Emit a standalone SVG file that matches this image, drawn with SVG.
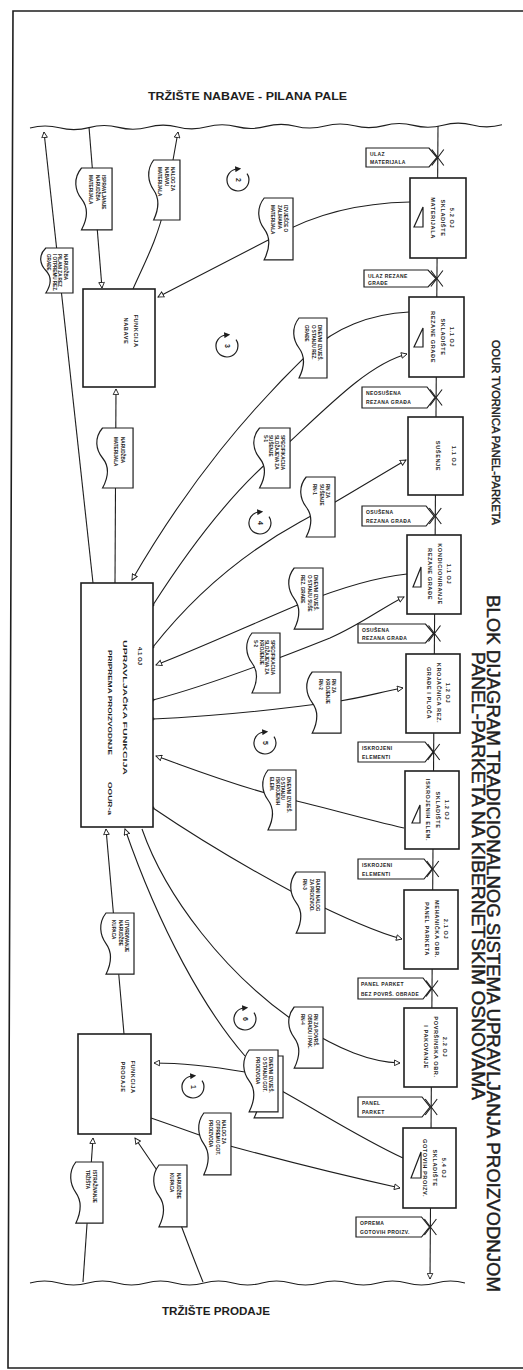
<svg xmlns="http://www.w3.org/2000/svg" xmlns:xlink="http://www.w3.org/1999/xlink" width="523" height="1370" viewBox="0 0 523 1370">
<style>
.ln{fill:none;stroke:#1e1e1e;stroke-width:1.1}
.bx{fill:#fff;stroke:#1e1e1e;stroke-width:1.6}
.dc{fill:#fff;stroke:#1e1e1e;stroke-width:1.2}
.tg{fill:#fff;stroke:#1e1e1e;stroke-width:1.2}
.sym{fill:none;stroke:#1e1e1e;stroke-width:1.2}
.t{font-family:"Liberation Sans",Arial,sans-serif;font-weight:bold;fill:#1e1e1e}
.dt{font-size:4.6px}
.nt{font-size:5.6px;letter-spacing:0.6px;text-anchor:middle}
.tt{font-size:5px;letter-spacing:0.4px}
.ttl{font-family:"Liberation Sans",Arial,sans-serif;fill:#1e1e1e;stroke:#1e1e1e;stroke-width:0.45}
</style>
<defs>
<path id="doc" d="M 6,0 L 34,0 L 34,60 L 6,60 C 12,48 12,38 6,30 C 0,22 -2,10 6,0 Z" vector-effect="non-scaling-stroke"/>
<marker id="arr" viewBox="0 0 10 10" refX="9" refY="5" markerWidth="7" markerHeight="7" markerUnits="userSpaceOnUse" orient="auto">
<path d="M1,1 L9,5 L1,9 Z" fill="#fff" stroke="#1e1e1e" stroke-width="1.3"/>
</marker>
<marker id="arc" viewBox="0 0 10 10" refX="3" refY="5" markerWidth="6" markerHeight="6" markerUnits="userSpaceOnUse" orient="auto">
<path d="M0,0 L10,5 L0,10 Z" fill="#1e1e1e"/>
</marker>
</defs>
<rect width="523" height="1370" fill="#fff"/>
<!-- frame -->
<path d="M 523,11 L 13,11 L 8,1368 L 523,1368" fill="none" stroke="#1e1e1e" stroke-width="1.6"/>
<!-- titles -->
<text class="t" x="148" y="100" font-size="10" textLength="199" lengthAdjust="spacingAndGlyphs">TRŽIŠTE  NABAVE - PILANA PALE</text>
<text class="t" x="162" y="1315" font-size="10" textLength="108" lengthAdjust="spacingAndGlyphs">TRŽIŠTE  PRODAJE</text>
<text class="ttl" transform="translate(492,340) rotate(90)" font-size="11" textLength="185" lengthAdjust="spacingAndGlyphs">OOUR TVORNICA PANEL-PARKETA</text>
<text class="ttl" transform="translate(487,595) rotate(90)" font-size="18" textLength="697" lengthAdjust="spacingAndGlyphs">BLOK DIJAGRAM TRADICIONALNOG SISTEMA UPRAVLJANJA PROIZVODNJOM</text>
<text class="ttl" transform="translate(472,652) rotate(90)" font-size="18" textLength="448" lengthAdjust="spacingAndGlyphs">PANEL-PARKETA NA KIBERNETSKIM OSNOVAMA</text>
<!-- market boundaries -->
<g id="markets">
<path class="ln" stroke-width="1.4" d="M 30,128 q 14.75,-4 29.5,-0.2 t 29.5,-0.2 t 29.5,-0.2 t 29.5,-0.2 t 29.5,-0.2 t 29.5,-0.2 t 29.5,-0.2 t 29.5,-0.2 t 29.5,-0.2 t 29.5,-0.2 t 29.5,-0.2 t 29.5,-0.2 t 29.5,-0.2 t 29.5,-0.2 t 29.5,-0.2 t 29.5,-0.2"/>
<path class="ln" stroke-width="1.4" d="M 30,1283 q 14.5,-4 29,0 t 29,0 t 29,0 t 29,0 t 29,0 t 29,0 t 29,0 t 29,0 t 29,0 t 29,0 t 29,0 t 29,0 t 29,0 t 29,0 t 29,0"/>
</g>
<!-- connectors -->
<g id="connectors" class="ln">
<path d="M 438,126 L 430,1279" marker-end="url(#arr)"/>
<path d="M 93,583 L 44,132" marker-end="url(#arr)"/>
<path d="M 89,127 L 102,288" marker-end="url(#arr)"/>
<path d="M 133,289 C 145,262 158,238 165,205 L 178,132" marker-end="url(#arr)"/>
<path d="M 410,202 C 360,203 315,214 278,235 C 240,255 200,275 158,297" marker-end="url(#arr)"/>
<path d="M 115,583 L 116,389" marker-end="url(#arr)"/>
<path d="M 409,312 C 370,314 335,328 310,352 C 250,410 190,480 132,580" marker-end="url(#arr)"/>
<path d="M 153,605 C 185,555 225,500 270,460 C 320,415 365,365 407,354" marker-end="url(#arr)"/>
<path d="M 153,647 C 190,600 240,555 300,522 C 330,506 360,487 406,460" marker-end="url(#arr)"/>
<path d="M 407,574 C 370,578 330,592 300,604 C 250,625 200,648 156,665" marker-end="url(#arr)"/>
<path d="M 153,700 C 210,685 280,658 330,638 C 360,625 385,606 404,597" marker-end="url(#arr)"/>
<path d="M 153,719 C 220,716 290,708 340,701 C 365,697 385,691 403,688" marker-end="url(#arr)"/>
<path d="M 404,828 C 360,818 320,806 280,797 C 230,784 190,768 156,756" marker-end="url(#arr)"/>
<path d="M 153,808 C 200,840 255,872 300,896 C 340,916 375,932 402,939" marker-end="url(#arr)"/>
<path d="M 124,1034 L 106,829" marker-end="url(#arr)"/>
<path d="M 245,1056 C 205,1010 160,930 125,829" marker-end="url(#arr)"/>
<path d="M 142,829 C 165,895 225,975 300,1025 C 340,1050 370,1062 400,1063" marker-end="url(#arr)"/>
<path d="M 151,1118 C 180,1128 205,1137 230,1146 C 300,1165 350,1177 400,1188" marker-end="url(#arr)"/>
<path d="M 83,1282 L 93,1138" marker-end="url(#arr)"/>
<path d="M 203,1282 C 190,1250 176,1212 165,1182 L 135,1138" marker-end="url(#arr)"/>
<path d="M 403,1158 C 360,1138 320,1112 280,1090"/>
<path d="M 245,1072 C 210,1066 180,1063 154,1063" marker-end="url(#arr)"/>
<g fill="#1e1e1e" stroke="none">
<circle cx="153" cy="605" r="1.4"/><circle cx="153" cy="647" r="1.4"/><circle cx="153" cy="700" r="1.4"/><circle cx="153" cy="719" r="1.4"/><circle cx="153" cy="808" r="1.4"/>
</g>
</g>
<!-- cycle symbols -->
<g id="cycles">
<path class="sym" d="M 247,173.7 A 11 11 0 1 1 237,169" marker-end="url(#arc)"/>
<text class="t" font-size="7" text-anchor="middle" transform="translate(235.5,180) rotate(90)">2</text>
<path class="sym" d="M 236,339.7 A 11 11 0 1 1 226,335" marker-end="url(#arc)"/>
<text class="t" font-size="7" text-anchor="middle" transform="translate(224.5,346) rotate(90)">3</text>
<path class="sym" d="M 269,516.7 A 11 11 0 1 1 259,512" marker-end="url(#arc)"/>
<text class="t" font-size="7" text-anchor="middle" transform="translate(257.5,523) rotate(90)">4</text>
<path class="sym" d="M 274,736.7 A 11 11 0 1 1 264,732" marker-end="url(#arc)"/>
<text class="t" font-size="7" text-anchor="middle" transform="translate(262.5,743) rotate(90)">5</text>
<path class="sym" d="M 254,1012.7 A 11 11 0 1 1 244,1008" marker-end="url(#arc)"/>
<text class="t" font-size="7" text-anchor="middle" transform="translate(242.5,1019) rotate(90)">6</text>
<path class="sym" d="M 202,1080.7 A 11 11 0 1 1 192,1076" marker-end="url(#arc)"/>
<text class="t" font-size="7" text-anchor="middle" transform="translate(190.5,1087) rotate(90)">1</text>
</g>
<!-- state tags on material flow -->
<g id="tag-ulaz-mat">
<path class="tg" d="M 366,148 H 429 L 437,157.5 L 429,167 H 366 Z"/>
<path class="ln" d="M 431.8,149.5 L 443.8,165.5 M 443.8,149.5 L 431.8,165.5"/>
<text class="t tt" x="370" y="156">ULAZ</text><text class="t tt" x="370" y="164">MATERIJALA</text>
</g>
<g id="tag-ulaz-rez">
<path class="tg" d="M 364,270 H 428 L 436,278.5 L 428,287 H 364 Z"/>
<path class="ln" d="M 430.9,270.5 L 442.9,286.5 M 442.9,270.5 L 430.9,286.5"/>
<text class="t tt" x="368" y="277.5">ULAZ REZANE</text><text class="t tt" x="368" y="285">GRAĐE</text>
</g>
<g id="tag-neosusena">
<path class="tg" d="M 362,387 H 427 L 435,397.5 L 427,408 H 362 Z"/>
<path class="ln" d="M 430.1,389.5 L 442.1,405.5 M 442.1,389.5 L 430.1,405.5"/>
<text class="t tt" x="366" y="395">NEOSUŠENA</text><text class="t tt" x="366" y="404">REZANA GRAĐA</text>
</g>
<g id="tag-osusena-1">
<path class="tg" d="M 362,506 H 426 L 434,516 L 426,526 H 362 Z"/>
<path class="ln" d="M 429.3,508 L 441.3,524 M 441.3,508 L 429.3,524"/>
<text class="t tt" x="366" y="514">OSUŠENA</text><text class="t tt" x="366" y="523">REZANA GRAĐA</text>
</g>
<g id="tag-osusena-2">
<path class="tg" d="M 358,624 H 425.5 L 433.5,633.5 L 425.5,643 H 358 Z"/>
<path class="ln" d="M 428.5,625.5 L 440.5,641.5 M 440.5,625.5 L 428.5,641.5"/>
<text class="t tt" x="362" y="631.5">OSUŠENA</text><text class="t tt" x="362" y="640">REZANA GRAĐA</text>
</g>
<g id="tag-iskrojeni-1">
<path class="tg" d="M 358,742 H 425 L 433,752 L 425,762 H 358 Z"/>
<path class="ln" d="M 427.7,744 L 439.7,760 M 439.7,744 L 427.7,760"/>
<text class="t tt" x="362" y="750">ISKROJENI</text><text class="t tt" x="362" y="759">ELEMENTI</text>
</g>
<g id="tag-iskrojeni-2">
<path class="tg" d="M 358,859 H 424 L 432,869 L 424,879 H 358 Z"/>
<path class="ln" d="M 426.8,861 L 438.8,877 M 438.8,861 L 426.8,877"/>
<text class="t tt" x="362" y="867">ISKROJENI</text><text class="t tt" x="362" y="876">ELEMENTI</text>
</g>
<g id="tag-panel-bez">
<path class="tg" d="M 358,978 H 423 L 431,988.5 L 423,999 H 358 Z"/>
<path class="ln" d="M 426,980.5 L 438,996.5 M 438,980.5 L 426,996.5"/>
<text class="t tt" x="361" y="986">PANEL PARKET</text><text class="t tt" x="361" y="995.5" textLength="58" lengthAdjust="spacingAndGlyphs">BEZ POVRŠ. OBRADE</text>
</g>
<g id="tag-panel">
<path class="tg" d="M 358,1097 H 422 L 430,1107 L 422,1117 H 358 Z"/>
<path class="ln" d="M 425.2,1099 L 437.2,1115 M 437.2,1099 L 425.2,1115"/>
<text class="t tt" x="362" y="1105">PANEL</text><text class="t tt" x="362" y="1114">PARKET</text>
</g>
<g id="tag-oprema">
<path class="tg" d="M 356,1217 H 421.5 L 429.5,1227 L 421.5,1237 H 356 Z"/>
<path class="ln" d="M 424.4,1219 L 436.4,1235 M 436.4,1219 L 424.4,1235"/>
<text class="t tt" x="360" y="1225">OPREMA</text><text class="t tt" x="360" y="1234">GOTOVIH PROIZV.</text>
</g>
<!-- process nodes -->
<g id="n-skladiste-materijala">
<rect class="bx" x="410" y="178" width="56" height="80"/>
<polygon class="sym" points="423,207 423,227 414,227"/>
<text class="t nt" transform="translate(450,218) rotate(90)"><tspan x="0">5.2 OJ</tspan><tspan x="0" dy="9.5">SKLADIŠTE</tspan><tspan x="0" dy="9.5">MATERIJALA</tspan></text>
</g>
<g id="n-skladiste-rezane">
<rect class="bx" x="409" y="297" width="55" height="80"/>
<polygon class="sym" points="423,328 423,347 414,347"/>
<text class="t nt" transform="translate(450,337) rotate(90)"><tspan x="0">1.1 OJ</tspan><tspan x="0" dy="9.5">SKLADIŠTE</tspan><tspan x="0" dy="9.5">REZANE GRAĐE</tspan></text>
</g>
<g id="n-susenje">
<rect class="bx" x="408" y="417" width="55" height="78"/>
<text class="t nt" transform="translate(452,456) rotate(90)"><tspan x="0">1.1 OJ</tspan><tspan x="0" dy="16">SUŠENJE</tspan></text>
</g>
<g id="n-kondicioniranje">
<rect class="bx" x="407" y="535" width="54" height="79"/>
<polygon class="sym" points="421,567 421,587 413,587"/>
<text class="t nt" transform="translate(447,574) rotate(90)"><tspan x="0">1.1 OJ</tspan><tspan x="0" dy="9.5">KONDICIONIRANJE</tspan><tspan x="0" dy="9.5">REZANE GRAĐE</tspan></text>
</g>
<g id="n-krojacnica">
<rect class="bx" x="406" y="654" width="54" height="79"/>
<text class="t nt" transform="translate(446,693) rotate(90)"><tspan x="0">1.2 OJ</tspan><tspan x="0" dy="9.5">KROJAČNICA REZ.</tspan><tspan x="0" dy="9.5">GRAĐE I PLOČA</tspan></text>
</g>
<g id="n-skladiste-iskrojenih">
<rect class="bx" x="405" y="771" width="54" height="78"/>
<polygon class="sym" points="420,805 420,823 412,823"/>
<text class="t nt" transform="translate(445,810) rotate(90)"><tspan x="0">1.2 OJ</tspan><tspan x="0" dy="9.5">SKLADIŠTE</tspan><tspan x="0" dy="9.5">ISKROJENIH ELEM.</tspan></text>
</g>
<g id="n-mehanicka">
<rect class="bx" x="404" y="890" width="54" height="79"/>
<text class="t nt" transform="translate(444,929) rotate(90)"><tspan x="0">2.1 OJ</tspan><tspan x="0" dy="9.5">MEHANIČKA OBR.</tspan><tspan x="0" dy="9.5">PANEL PARKETA</tspan></text>
</g>
<g id="n-povrsinska">
<rect class="bx" x="404" y="1008" width="53" height="79"/>
<text class="t nt" transform="translate(443,1047) rotate(90)"><tspan x="0">2.2 OJ</tspan><tspan x="0" dy="9.5">POVRŠINSKA OBR.</tspan><tspan x="0" dy="9.5">I PAKOVANJE</tspan></text>
</g>
<g id="n-skladiste-gotovih">
<rect class="bx" x="403" y="1128" width="53" height="80"/>
<polygon class="sym" points="421,1152 421,1178 411,1178"/>
<text class="t nt" transform="translate(442,1168) rotate(90)"><tspan x="0">5.4 OJ</tspan><tspan x="0" dy="9.5">SKLADIŠTE</tspan><tspan x="0" dy="9.5">GOTOVIH PROIZV.</tspan></text>
</g>
<g id="n-funkcija-nabave">
<rect class="bx" x="83" y="289" width="72" height="98"/>
<text class="t nt" transform="translate(134,331) rotate(90)"><tspan x="0">FUNKCIJA</tspan><tspan x="0" dy="10">NABAVE</tspan></text>
</g>
<g id="n-upravljacka">
<rect class="bx" x="81" y="583" width="72" height="244"/>
<text class="t" font-size="6" transform="translate(138,647) rotate(90)" textLength="18" lengthAdjust="spacingAndGlyphs">4.1 OJ</text>
<text class="t" font-size="6" transform="translate(123,640) rotate(90)" textLength="135" lengthAdjust="spacingAndGlyphs">UPRAVLJAČKA FUNKCIJA</text>
<text class="t" font-size="6" transform="translate(108,650) rotate(90)" textLength="105" lengthAdjust="spacingAndGlyphs">PRIPREMA PROIZVODNJE</text>
<text class="t" font-size="6" transform="translate(108,782) rotate(90)" textLength="33" lengthAdjust="spacingAndGlyphs">OOUR-a</text>
</g>
<g id="n-funkcija-prodaje">
<rect class="bx" x="78" y="1034" width="73" height="100"/>
<text class="t nt" transform="translate(131,1077) rotate(90)"><tspan x="0">FUNKCIJA</tspan><tspan x="0" dy="10">PRODAJE</tspan></text>
</g>
<!-- documents -->
<g id="d-narudzba-pilani">
<use xlink:href="#doc" class="dc" transform="translate(40,248) scale(0.97,0.75)"/>
<text class="t dt" transform="translate(64,254) rotate(90)"><tspan x="0">NARUDŽBA</tspan><tspan x="0" dy="5.6">PILANI ZA REZ</tspan><tspan x="0" dy="5.6">I OTPREMU REZ.</tspan><tspan x="0" dy="5.6">GRAĐE</tspan></text>
</g>
<g id="d-ispravljanje">
<use xlink:href="#doc" class="dc" transform="translate(75,168) scale(1.09,1.03)"/>
<text class="t dt" transform="translate(102,175) rotate(90)"><tspan x="0">ISPRAVLJANJE</tspan><tspan x="0" dy="6.3">NARUDŽBA</tspan><tspan x="0" dy="6.3">MATERIJALA</tspan></text>
</g>
<g id="d-nalog-nabavu">
<use xlink:href="#doc" class="dc" transform="translate(148,160) scale(0.94,1)"/>
<text class="t dt" transform="translate(171,167) rotate(90)"><tspan x="0">NALOG ZA</tspan><tspan x="0" dy="6.3">NABAVU</tspan><tspan x="0" dy="6.3">MATERIJALA</tspan></text>
</g>
<g id="d-izvjesce-zalihe">
<use xlink:href="#doc" class="dc" transform="translate(258,198) scale(1.03,1.03)"/>
<text class="t dt" transform="translate(284,205) rotate(90)"><tspan x="0">IZVJEŠĆE O</tspan><tspan x="0" dy="6.3">ZALIHAMA</tspan><tspan x="0" dy="6.3">MATERIJALA</tspan></text>
</g>
<g id="d-narudzba-mat">
<use xlink:href="#doc" class="dc" transform="translate(96,428) scale(1.09,1)"/>
<text class="t dt" transform="translate(121,437) rotate(90)"><tspan x="0">NARUDŽBA</tspan><tspan x="0" dy="7">MATERIJALA</tspan></text>
</g>
<g id="d-dnevni-rez">
<use xlink:href="#doc" class="dc" transform="translate(293,318) scale(1,1)"/>
<text class="t dt" transform="translate(318,325) rotate(90)"><tspan x="0">DNEVNI IZVJEŠ.</tspan><tspan x="0" dy="6.3">O STANJU REZ.</tspan><tspan x="0" dy="6.3">GRAĐE</tspan></text>
</g>
<g id="d-spec-s1">
<use xlink:href="#doc" class="dc" transform="translate(253,428) scale(1.09,1)"/>
<text class="t dt" transform="translate(281,435) rotate(90)"><tspan x="0">SPECIFIKACIJA</tspan><tspan x="0" dy="5.8">SLOŽAJEVA ZA</tspan><tspan x="0" dy="5.8">SUŠENJE</tspan><tspan x="0" dy="5.8">S-1</tspan></text>
</g>
<g id="d-rn1">
<use xlink:href="#doc" class="dc" transform="translate(300,477) scale(1.03,1)"/>
<text class="t dt" transform="translate(326,484) rotate(90)"><tspan x="0">RN ZA</tspan><tspan x="0" dy="6.3">SUŠENJE</tspan><tspan x="0" dy="6.3">RN-1</tspan></text>
</g>
<g id="d-dnevni-suse">
<use xlink:href="#doc" class="dc" transform="translate(288,568) scale(1.03,1.02)"/>
<text class="t dt" transform="translate(314,575) rotate(90)"><tspan x="0">DNEVNI IZVJEŠ.</tspan><tspan x="0" dy="6.3">O STANJU SUŠE</tspan><tspan x="0" dy="6.3">REZ. GRAĐE</tspan></text>
</g>
<g id="d-spec-s2">
<use xlink:href="#doc" class="dc" transform="translate(246,633) scale(1,1)"/>
<text class="t dt" transform="translate(271,640) rotate(90)"><tspan x="0">SPECIFIKACIJA</tspan><tspan x="0" dy="5.6">SLOŽAJEVA ZA</tspan><tspan x="0" dy="5.6">KROJENJE</tspan><tspan x="0" dy="5.6">S-2</tspan></text>
</g>
<g id="d-rn2">
<use xlink:href="#doc" class="dc" transform="translate(306,672) scale(1.03,1.02)"/>
<text class="t dt" transform="translate(332,679) rotate(90)"><tspan x="0">RN ZA</tspan><tspan x="0" dy="6.3">KROJENJE</tspan><tspan x="0" dy="6.3">RN-2</tspan></text>
</g>
<g id="d-dnevni-iskrojeni">
<use xlink:href="#doc" class="dc" transform="translate(262,770) scale(1,1)"/>
<text class="t dt" transform="translate(287,777) rotate(90)"><tspan x="0">DNEVNI IZVJEŠ.</tspan><tspan x="0" dy="5.6">O STANJU</tspan><tspan x="0" dy="5.6">ISKROJENIH</tspan><tspan x="0" dy="5.6">ELEM.</tspan></text>
</g>
<g id="d-rn3">
<use xlink:href="#doc" class="dc" transform="translate(290,872) scale(1.03,1.02)"/>
<text class="t dt" transform="translate(316,879) rotate(90)"><tspan x="0">RADNI NALOG</tspan><tspan x="0" dy="6.3">ZA PROIZVOD.</tspan><tspan x="0" dy="6.3">RN-3</tspan></text>
</g>
<g id="d-utvrdivanje">
<use xlink:href="#doc" class="dc" transform="translate(100,913) scale(1,1.02)"/>
<text class="t dt" transform="translate(125,920) rotate(90)"><tspan x="0">UTVRĐIVANJE</tspan><tspan x="0" dy="6.3">NARUDŽBE</tspan><tspan x="0" dy="6.3">KUPACA</tspan></text>
</g>
<g id="d-rn4">
<use xlink:href="#doc" class="dc" transform="translate(288,1007) scale(1.03,1.02)"/>
<text class="t dt" transform="translate(314,1014) rotate(90)"><tspan x="0">RN ZA POVRŠ.</tspan><tspan x="0" dy="6.3">OBRADU I PAK.</tspan><tspan x="0" dy="6.3">RN-4</tspan></text>
</g>
<g id="d-dnevni-gotovi">
<use xlink:href="#doc" class="dc" transform="translate(248,1056) scale(1.03,1.03)"/>
<use xlink:href="#doc" class="dc" transform="translate(243,1050) scale(1.03,1.03)"/>
<text class="t dt" transform="translate(269,1057) rotate(90)"><tspan x="0">DNEVNI IZVJEŠ.</tspan><tspan x="0" dy="6.3">O STANJU GOT.</tspan><tspan x="0" dy="6.3">PROIZVODA</tspan></text>
</g>
<g id="d-nalog-otpremu">
<use xlink:href="#doc" class="dc" transform="translate(198,1113) scale(0.97,1.03)"/>
<text class="t dt" transform="translate(222,1120) rotate(90)"><tspan x="0">NALOG ZA</tspan><tspan x="0" dy="6.3">OTPREMU GOT.</tspan><tspan x="0" dy="6.3">PROIZVODA</tspan></text>
</g>
<g id="d-istrazivanje">
<use xlink:href="#doc" class="dc" transform="translate(70,1162) scale(0.97,1.02)"/>
<text class="t dt" transform="translate(93,1170) rotate(90)"><tspan x="0">ISTRAŽIVANJE</tspan><tspan x="0" dy="7">TRŽIŠTA</tspan></text>
</g>
<g id="d-narudzbe-kupaca">
<use xlink:href="#doc" class="dc" transform="translate(153,1165) scale(1,1.03)"/>
<text class="t dt" transform="translate(177,1173) rotate(90)"><tspan x="0">NARUDŽBE</tspan><tspan x="0" dy="7">KUPACA</tspan></text>
</g>
</svg>
